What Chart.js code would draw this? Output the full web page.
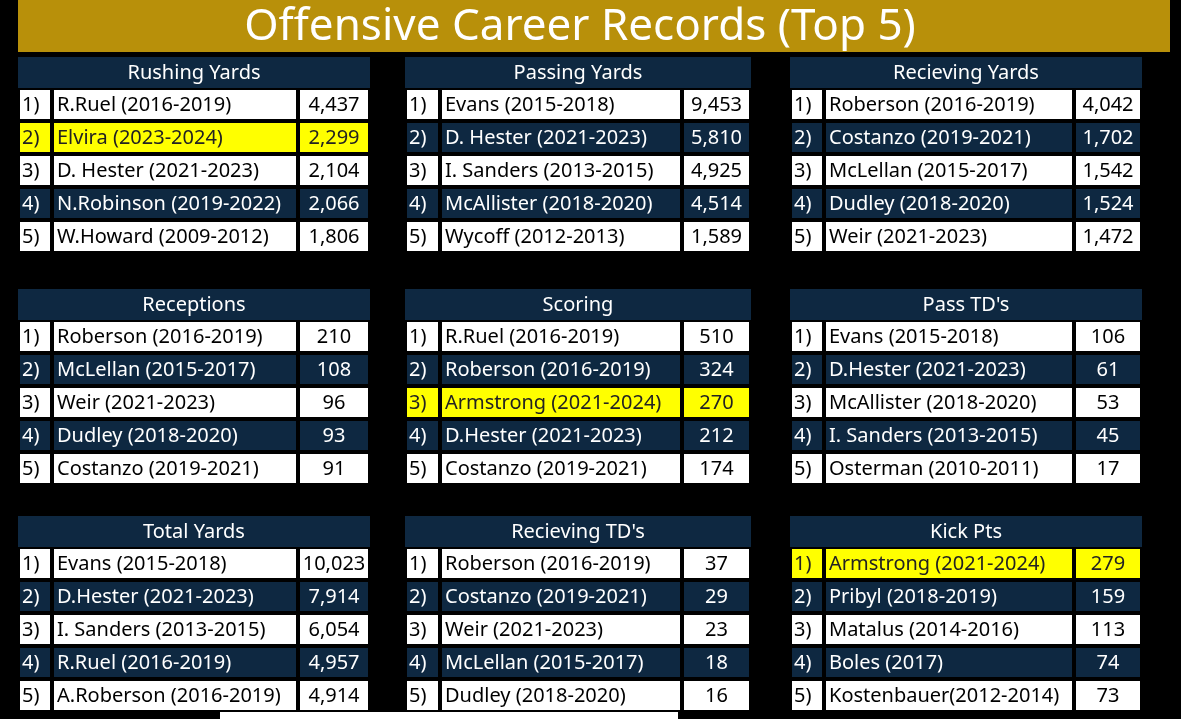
<!DOCTYPE html>
<html><head><meta charset="utf-8">
<script src="https://cdn.jsdelivr.net/npm/chart.js@4"></script>
<style>html,body{margin:0;padding:0;background:#000;}canvas{display:block}</style>
</head><body>
<canvas id="c" width="1181" height="719"></canvas>
<script>
const mainTitle = "Offensive Career Records (Top 5)";
const tableTitles = ["Rushing Yards","Passing Yards","Recieving Yards","Receptions","Scoring","Pass TD's","Total Yards","Recieving TD's","Kick Pts"];
const ranks = ["1)","2)","3)","4)","5)"];
const rushingNames = ["R.Ruel (2016-2019)","Elvira (2023-2024)","D. Hester (2021-2023)","N.Robinson (2019-2022)","W.Howard (2009-2012)"];
const rushingValues = [4437,2299,2104,2066,1806];
const passingNames = ["Evans (2015-2018)","D. Hester (2021-2023)","I. Sanders (2013-2015)","McAllister (2018-2020)","Wycoff (2012-2013)"];
const passingValues = [9453,5810,4925,4514,1589];
const recYdsNames = ["Roberson (2016-2019)","Costanzo (2019-2021)","McLellan (2015-2017)","Dudley (2018-2020)","Weir (2021-2023)"];
const recYdsValues = [4042,1702,1542,1524,1472];
const receptionNames = ["Roberson (2016-2019)","McLellan (2015-2017)","Weir (2021-2023)","Dudley (2018-2020)","Costanzo (2019-2021)"];
const receptionValues = [210,108,96,93,91];
const scoringNames = ["R.Ruel (2016-2019)","Roberson (2016-2019)","Armstrong (2021-2024)","D.Hester (2021-2023)","Costanzo (2019-2021)"];
const scoringValues = [510,324,270,212,174];
const passTdNames = ["Evans (2015-2018)","D.Hester (2021-2023)","McAllister (2018-2020)","I. Sanders (2013-2015)","Osterman (2010-2011)"];
const passTdValues = [106,61,53,45,17];
const totalNames = ["Evans (2015-2018)","D.Hester (2021-2023)","I. Sanders (2013-2015)","R.Ruel (2016-2019)","A.Roberson (2016-2019)"];
const totalValues = [10023,7914,6054,4957,4914];
const recTdNames = ["Roberson (2016-2019)","Costanzo (2019-2021)","Weir (2021-2023)","McLellan (2015-2017)","Dudley (2018-2020)"];
const recTdValues = [37,29,23,18,16];
const kickNames = ["Armstrong (2021-2024)","Pribyl (2018-2019)","Matalus (2014-2016)","Boles (2017)","Kostenbauer(2012-2014)"];
const kickValues = [279,159,113,74,73];
const highlightRows = [1,-1,-1,-1,2,-1,-1,-1,0];

const tables = [
 [rushingNames,rushingValues],[passingNames,passingValues],[recYdsNames,recYdsValues],
 [receptionNames,receptionValues],[scoringNames,scoringValues],[passTdNames,passTdValues],
 [totalNames,totalValues],[recTdNames,recTdValues],[kickNames,kickValues]];

const colX = [[18,52,298,370],[405,440,682,751],[790,824,1074,1142]];
const rowTop = [57,289,516];
const headH = 31, rowH = 33;
const NAVY = "#0e2841", GOLD = "#b8900a", YEL = "#ffff00";
const FONT = "'Noto Sans', 'Open Sans', sans-serif";

const tablePlugin = {
 id:'tables',
 afterDraw(chart){
  const ctx = chart.ctx, xs = chart.scales.x, ys = chart.scales.y;
  const X = v=>xs.getPixelForValue(v), Y = v=>ys.getPixelForValue(v);
  ctx.save();
  ctx.fillStyle="#000"; ctx.fillRect(0,0,chart.width,chart.height);
  ctx.fillStyle=GOLD; ctx.fillRect(X(18),Y(0),X(1170)-X(18),Y(52)-Y(0));
  ctx.fillStyle="#fff"; ctx.font="44px "+FONT; ctx.textAlign="center"; ctx.textBaseline="middle";
  ctx.fillText(mainTitle,X(580),Y(27));
  ctx.fillStyle="#fff"; ctx.fillRect(X(220),Y(712),X(678)-X(220),Y(719)-Y(712));
  tables.forEach((t,i)=>{
   const c = colX[i%3], top = rowTop[Math.floor(i/3)];
   ctx.fillStyle=NAVY; ctx.fillRect(X(c[0]),Y(top),X(c[3])-X(c[0]),headH);
   ctx.fillStyle="#fff"; ctx.font="20px "+FONT; ctx.textAlign="center";
   ctx.fillText(tableTitles[i],X((c[0]+c[3])/2),Y(top+headH/2+1));
   t[0].forEach((name,r)=>{
    const y0 = top+headH+r*rowH;
    const hl = highlightRows[i]===r;
    const bg = hl?YEL:(r%2===1?NAVY:"#fff");
    const fg = hl?"#222":(r%2===1?"#fff":"#000");
    ctx.fillStyle=bg; ctx.fillRect(X(c[0]),Y(y0),X(c[3])-X(c[0]),rowH);
    ctx.strokeStyle="#000"; ctx.lineWidth=2;
    for(let k=0;k<3;k++) ctx.strokeRect(X(c[k])+1,Y(y0)+1,X(c[k+1])-X(c[k])-2,rowH-2);
    ctx.fillStyle=fg; ctx.font="20px "+FONT; ctx.textBaseline="middle";
    ctx.textAlign="left"; ctx.fillText(ranks[r],X(c[0])+4,Y(y0+rowH/2+1));
    ctx.fillText(name,X(c[1])+5,Y(y0+rowH/2+1));
    ctx.textAlign="center"; ctx.fillText(t[1][r].toLocaleString('en-US'),X((c[2]+c[3])/2),Y(y0+rowH/2+1));
   });
  });
  ctx.restore();
 }
};

new Chart(document.getElementById('c'),{
 type:'scatter',
 data:{datasets:[{data:[]}]},
 options:{responsive:false,animation:false,layout:{padding:0},
  plugins:{legend:{display:false},tooltip:{enabled:false}},
  scales:{x:{type:'linear',min:0,max:1181,display:false},
          y:{type:'linear',min:0,max:719,reverse:true,display:false}}},
 plugins:[tablePlugin]
});
</script></body></html>
